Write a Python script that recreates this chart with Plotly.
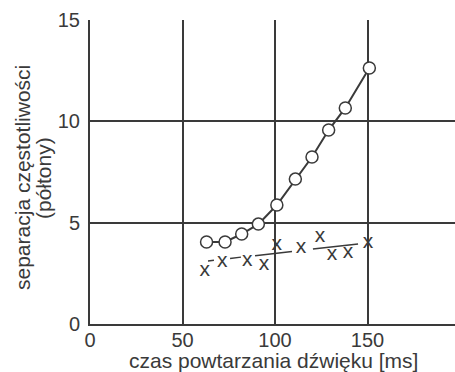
import plotly.graph_objects as go

# circles: separation (semitones) vs repetition time (ms)
circ_x = [63, 73, 82, 91, 101, 111, 120, 129, 138, 151]
circ_y = [4.05, 4.05, 4.44, 4.93, 5.87, 7.15, 8.24, 9.57, 10.66, 12.63]

# crosses
cross_x = [62, 71.5, 85, 94, 101, 114, 124.3, 130.8, 139.5, 150.3]
cross_y = [2.61, 3.06, 3.11, 2.91, 3.9, 3.75, 4.29, 3.40, 3.50, 4.0]

# visible pieces of the fitted line through the crosses (start/end x, start/end y)
fit_x0 = [63.8, 75.7, 89.2, 120.5]
fit_x1 = [67.0, 81.6, 109.2, 144.9]
fit_y0 = [3.11, 3.23, 3.37, 3.70]
fit_y1 = [3.14, 3.30, 3.58, 3.95]

x_ticks = [0, 50, 100, 150]
y_ticks = [0, 5, 10, 15]

C = "#3a3a3a"
FONT = "Liberation Sans, Arial, sans-serif"

fig = go.Figure()
for a, b, c, d in zip(fit_x0, fit_x1, fit_y0, fit_y1):
    fig.add_trace(go.Scatter(x=[a, b], y=[c, d], mode="lines",
                             line=dict(color=C, width=1.5), showlegend=False,
                             hoverinfo="skip"))
fig.add_trace(go.Scatter(x=circ_x, y=circ_y, mode="lines+markers",
                         line=dict(color=C, width=2),
                         marker=dict(size=12, color="white", line=dict(color=C, width=1.5)),
                         showlegend=False))
fig.add_trace(go.Scatter(x=cross_x, y=cross_y, mode="text", text=["x"] * len(cross_x),
                         textposition="middle center",
                         textfont=dict(family=FONT, size=21, color=C),
                         showlegend=False))

fig.update_layout(
    width=455, height=372,
    margin=dict(l=90, r=0, t=20, b=48),
    plot_bgcolor="white", paper_bgcolor="white",
    font=dict(family=FONT, size=21, color=C),
    xaxis=dict(range=[0, 197.3], tickvals=x_ticks, showgrid=True, gridcolor=C, gridwidth=1.5,
               showline=True, linecolor=C, linewidth=2, zeroline=False, ticks="",
               ticklabelstandoff=-3, tickfont=dict(size=20)),
    yaxis=dict(range=[0, 15], tickvals=y_ticks, showgrid=True, gridcolor=C, gridwidth=1.5,
               showline=True, linecolor=C, linewidth=2, zeroline=False, ticks="",
               ticklabelstandoff=4, tickfont=dict(size=20)),
    annotations=[
        dict(text="czas powtarzania dźwięku [ms]", xref="paper", yref="paper",
             x=(273 - 90) / 365, y=-(373 - 324) / 304, showarrow=False,
             xanchor="center", yanchor="bottom", borderpad=0, font=dict(size=21)),
        dict(text="separacja częstotliwości", xref="paper", yref="paper",
             x=(22 - 90) / 365, y=(324 - 178) / 304, showarrow=False, textangle=-90,
             xanchor="center", yanchor="middle", font=dict(size=21)),
        dict(text="(półtony)", xref="paper", yref="paper",
             x=(43 - 90) / 365, y=(324 - 178) / 304, showarrow=False, textangle=-90,
             xanchor="center", yanchor="middle", font=dict(size=21)),
    ],
)
fig.write_html("out.html")
